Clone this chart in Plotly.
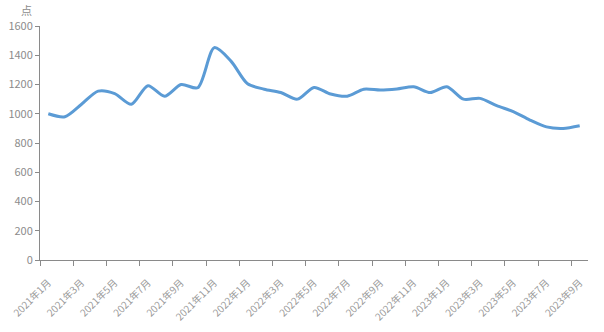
import plotly.graph_objects as go

months = [f"{y}年{m}月" for y in (2021, 2022, 2023) for m in range(1, 13)][:33]
values = [1000, 980, 1065, 1155, 1138, 1065, 1192, 1120, 1200, 1178, 1452, 1360,
          1205, 1168, 1145, 1100, 1180, 1135, 1120, 1168, 1162, 1170, 1185, 1145,
          1185, 1100, 1105, 1055, 1015, 957, 910, 900, 918]
y_ticks = [0, 200, 400, 600, 800, 1000, 1200, 1400, 1600]
unit = "点"

idx = list(range(len(months)))
label_idx = idx[::2]
label_text = [months[i] for i in label_idx]
boundaries = [i - 0.5 for i in idx[::2]]

font_family = "Noto Sans CJK SC"
gray = "#999999"
axis_color = "#8a8a8a"

fig = go.Figure()
fig.add_trace(go.Scatter(
    x=idx, y=values, mode="lines",
    line=dict(color="#5b9bd5", width=3, shape="spline", smoothing=0.8),
    hoverinfo="skip", showlegend=False,
))
fig.add_trace(go.Scatter(x=[idx[0]], y=[values[0]], xaxis="x2", mode="markers",
                         marker=dict(opacity=0), showlegend=False, hoverinfo="skip"))

fig.update_layout(
    width=604, height=332,
    margin=dict(l=40, r=16, t=26, b=72),
    paper_bgcolor="white", plot_bgcolor="white",
    font=dict(family=font_family, color=gray, size=11),
    xaxis=dict(
        range=[-0.5, len(months) - 0.5], automargin=False,
        tickmode="array", tickvals=label_idx, ticktext=label_text,
        tickangle=-45, ticks="", showgrid=False, zeroline=False,
        showline=True, linecolor=axis_color, linewidth=1,
        tickfont=dict(size=10, color=gray, family=font_family),
        ticklabelstandoff=12,
    ),
    xaxis2=dict(
        overlaying="x", side="bottom", anchor="y", automargin=False,
        range=[-0.5, len(months) - 0.5],
        tickmode="array", tickvals=boundaries, ticktext=[""] * len(boundaries),
        ticks="outside", ticklen=5, tickcolor=axis_color, tickwidth=1,
        showgrid=False, zeroline=False, showline=False, showticklabels=False,
    ),
    yaxis=dict(
        range=[0, 1600], tickmode="array", tickvals=y_ticks, automargin=False,
        ticks="outside", ticklen=4, tickcolor=axis_color,
        showgrid=False, zeroline=False,
        showline=True, linecolor=axis_color, linewidth=1,
        tickfont=dict(size=11, color="#8c8c8c", family=font_family),
    ),
    annotations=[dict(
        text=unit, xref="paper", yref="paper", x=-0.024, y=1.07,
        xanchor="center", yanchor="middle", showarrow=False,
        font=dict(size=11, color="#8c8c8c", family=font_family),
    )],
)

fig.write_html("out.html")
